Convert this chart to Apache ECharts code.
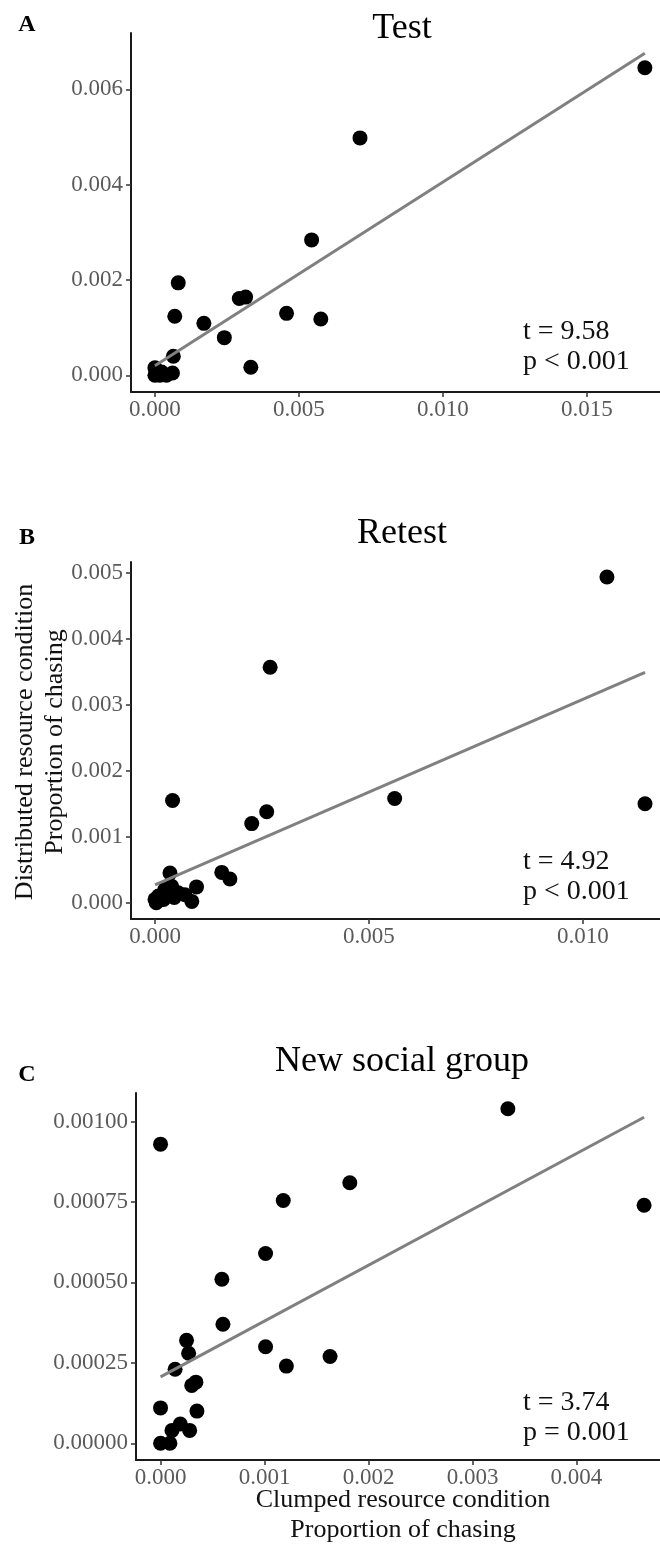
<!DOCTYPE html>
<html>
<head>
<meta charset="utf-8">
<script src="https://cdn.jsdelivr.net/npm/echarts@6/dist/echarts.min.js"></script>
<style>
html, body { margin: 0; padding: 0; background: #fff; }
#main { width: 660px; height: 1547px; }
</style>
</head>
<body>
<div id="main"></div>
<script>
// A - test
var testX = [0.01701, 0.00712, 0.00544, 0.00081, 0.00069, 0.00170, 0.00293, 0.00315, 0.00457, 0.00576,
             0.00241, 0.00333, 0.00064, 0.00000, 0.00000, 0.00017, 0.00040, 0.00061, 0.00023, 0.00007];
var testY = [0.00645, 0.00498, 0.00284, 0.00194, 0.00124, 0.00109, 0.00161, 0.00164, 0.00130, 0.00118,
             0.00079, 0.00017, 0.00040, 0.00016, 0.00000, 0.00000, 0.00000, 0.00005, 0.00007, 0.00008];
var testXTicks = [0, 0.005, 0.010, 0.015];
var testYTicks = [0, 0.002, 0.004, 0.006];

// B - retest
var retestX = [0.01056, 0.01145, 0.00269, 0.00041, 0.00560, 0.00261, 0.00226, 0.00156, 0.00175, 0.00035, 0.00097,
               0.00086, 0.00070, 0.00054, 0.00039, 0.00023, 0.00008, 0.00000, 0.00020, 0.00031, 0.00003, 0.00045];
var retestY = [0.00494, 0.00150, 0.00357, 0.00155, 0.00158, 0.00138, 0.00120, 0.00046, 0.00036, 0.00045, 0.00024,
               0.00002, 0.00012, 0.00015, 0.00025, 0.00020, 0.00010, 0.00005, 0.00005, 0.00010, 0.00000, 0.00008];
var retestXTicks = [0, 0.005, 0.010];
var retestYTicks = [0, 0.001, 0.002, 0.003, 0.004, 0.005];

// C - new social group
var newX = [0.00000, 0.00334, 0.00465, 0.00182, 0.00118, 0.00101, 0.00059, 0.00060, 0.00025, 0.00027, 0.00014, 0.00101,
            0.00121, 0.00163, 0.00030, 0.00034, 0.00035, 0.00000, 0.00019, 0.00011, 0.00028, 0.00000, 0.00009];
var newY = [0.00093, 0.00104, 0.00074, 0.00081, 0.000755, 0.00059, 0.00051, 0.00037, 0.00032, 0.00028, 0.00023, 0.00030,
            0.00024, 0.00027, 0.00018, 0.00019, 0.00010, 0.00011, 0.00006, 0.00004, 0.00004, 0.00000, 0.00000];
var newXTicks = [0, 0.001, 0.002, 0.003, 0.004];
var newYTicks = [0, 0.00025, 0.00050, 0.00075, 0.00100];

var panelTitles = ['Test', 'Retest', 'New social group'];
var panelLetters = ['A', 'B', 'C'];
var statT = ['t = 9.58', 't = 4.92', 't = 3.74'];
var statP = ['p < 0.001', 'p < 0.001', 'p = 0.001'];

var serif = 'Liberation Serif';

// least squares line, drawn over the range of x
function fitLine(xs, ys) {
    var n = xs.length, mx = 0, my = 0, sxy = 0, sxx = 0;
    for (var i = 0; i < n; i++) { mx += xs[i]; my += ys[i]; }
    mx /= n; my /= n;
    for (var i = 0; i < n; i++) {
        sxy += (xs[i] - mx) * (ys[i] - my);
        sxx += (xs[i] - mx) * (xs[i] - mx);
    }
    var b = sxy / sxx, a = my - b * mx;
    var lo = Math.min.apply(null, xs), hi = Math.max.apply(null, xs);
    return [[lo, a + b * lo], [hi, a + b * hi]];
}

function pairs(xs, ys) {
    var out = [];
    for (var i = 0; i < xs.length; i++) out.push([xs[i], ys[i]]);
    return out;
}

function makeAxis(idx, min, max, ticks, digits, isX) {
    return {
        type: 'value',
        gridIndex: idx,
        min: min,
        max: max,
        axisLine: { show: true, onZero: false, lineStyle: { color: '#1a1a1a', width: 2 } },
        axisTick: { show: true, customValues: ticks, length: 5, lineStyle: { color: '#333', width: 1.5 } },
        axisLabel: {
            customValues: ticks,
            formatter: function (v) { return v.toFixed(digits); },
            color: '#5a5a5a',
            fontFamily: serif,
            fontSize: 23,
            margin: isX ? 6 : 8
        },
        splitLine: { show: false }
    };
}

var grids = [
    { left: 131, top: 33, width: 529, height: 359 },
    { left: 131, top: 562, width: 529, height: 357 },
    { left: 136, top: 1093, width: 524, height: 367 }
];

var xAxes = [
    makeAxis(0, -0.00083, 0.017535, testXTicks, 3, true),
    makeAxis(1, -0.000561, 0.0118, retestXTicks, 3, true),
    makeAxis(2, -0.000236, 0.004803, newXTicks, 3, true)
];
var yAxes = [
    makeAxis(0, -0.00035, 0.00718, testYTicks, 3, false),
    makeAxis(1, -0.000247, 0.005167, retestYTicks, 3, false),
    makeAxis(2, -0.000052, 0.001089, newYTicks, 5, false)
];

var allX = [testX, retestX, newX];
var allY = [testY, retestY, newY];
var series = [];
for (var k = 0; k < 3; k++) {
    series.push({
        type: 'scatter',
        xAxisIndex: k, yAxisIndex: k,
        symbol: 'circle',
        symbolSize: 15,
        itemStyle: { color: '#000', opacity: 1 },
        data: pairs(allX[k], allY[k])
    });
    series.push({
        type: 'line',
        xAxisIndex: k, yAxisIndex: k,
        showSymbol: false,
        z: 3,
        lineStyle: { color: '#808080', width: 3 },
        data: fitLine(allX[k], allY[k])
    });
}

var titleY = [29, 534, 1062];
var letterY = [25, 538, 1075];
var statY = [332, 862, 1403];
var graphics = [];
for (var k = 0; k < 3; k++) {
    graphics.push({
        type: 'text', x: 402, y: titleY[k],
        style: { text: panelTitles[k], font: '36px "Liberation Serif"', fill: '#000',
                 align: 'center', verticalAlign: 'middle', textAlign: 'center', textVerticalAlign: 'middle' }
    });
    graphics.push({
        type: 'text', x: 27, y: letterY[k],
        style: { text: panelLetters[k], font: 'bold 24px "Liberation Serif"', fill: '#000',
                 align: 'center', verticalAlign: 'middle', textAlign: 'center', textVerticalAlign: 'middle' }
    });
    graphics.push({
        type: 'text', x: 523, y: statY[k],
        style: { text: statT[k], font: '28px "Liberation Serif"', fill: '#111',
                 align: 'left', verticalAlign: 'middle', textAlign: 'left', textVerticalAlign: 'middle' }
    });
    graphics.push({
        type: 'text', x: 523, y: statY[k] + 30,
        style: { text: statP[k], font: '28px "Liberation Serif"', fill: '#111',
                 align: 'left', verticalAlign: 'middle', textAlign: 'left', textVerticalAlign: 'middle' }
    });
}
// axis titles
graphics.push({
    type: 'text', x: 40, y: 742, rotation: Math.PI / 2,
    style: { text: 'Distributed resource condition\nProportion of chasing', font: '26px "Liberation Serif"',
             lineHeight: 30, fill: '#111', align: 'center', verticalAlign: 'middle',
             textAlign: 'center', textVerticalAlign: 'middle' }
});
graphics.push({
    type: 'text', x: 403, y: 1515,
    style: { text: 'Clumped resource condition\nProportion of chasing', font: '26px "Liberation Serif"',
             lineHeight: 30, fill: '#111', align: 'center', verticalAlign: 'middle',
             textAlign: 'center', textVerticalAlign: 'middle' }
});

var myChart = echarts.init(document.getElementById('main'));
var option = {
    animation: false,
    backgroundColor: '#fff',
    grid: grids,
    xAxis: xAxes,
    yAxis: yAxes,
    series: series,
    graphic: graphics
};
myChart.setOption(option);
</script>
</body>
</html>
